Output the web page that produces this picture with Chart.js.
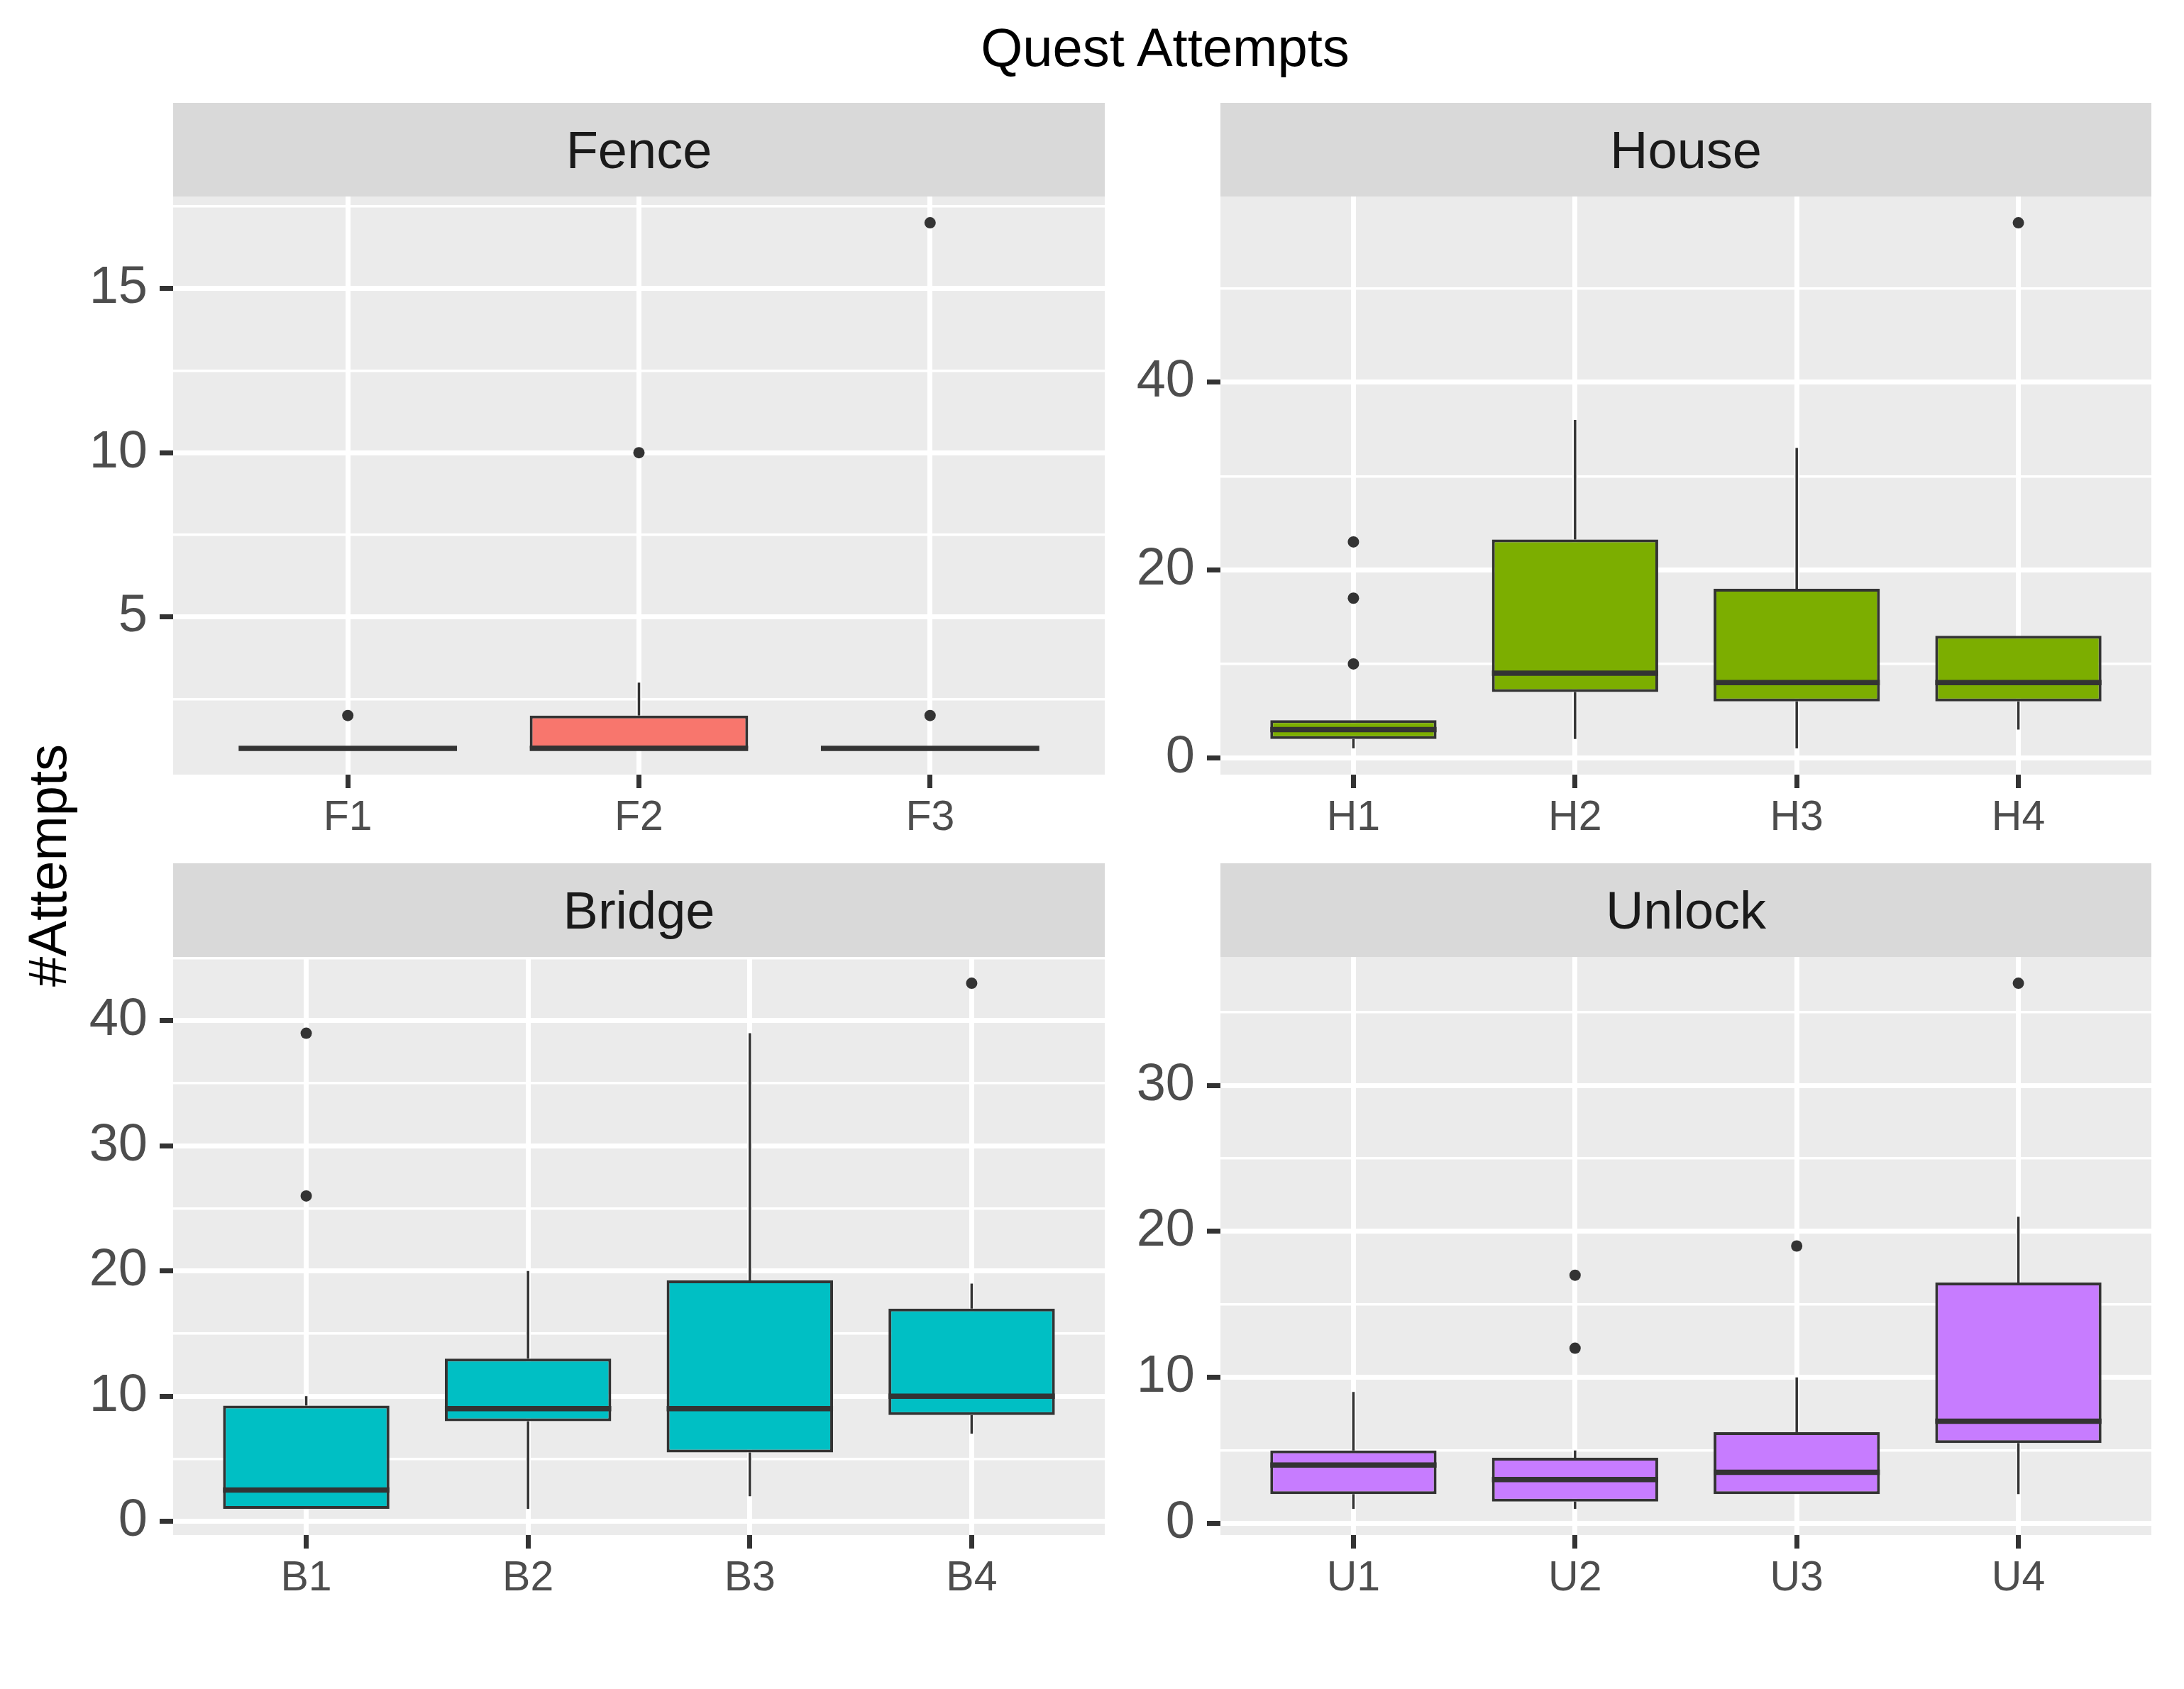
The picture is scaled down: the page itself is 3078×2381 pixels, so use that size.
<!DOCTYPE html>
<html>
<head>
<meta charset="utf-8">
<title>Quest Attempts</title>
<script src="https://cdn.jsdelivr.net/npm/chart.js@4.4.1/dist/chart.umd.min.js"></script>
<style>
  body { margin: 0; background: #ffffff; }
  #page {
    position: relative;
    width: 3078px;
    height: 2381px;
    overflow: hidden;
    font-family: "Liberation Sans", Arial, sans-serif;
  }
  #page canvas { position: absolute; }
  #title {
    position: absolute;
    left: 244px;
    top: 29px;
    width: 2796px;
    text-align: center;
    font-size: 76px;
    line-height: 76px;
    color: #000000;
  }
  #ytitle {
    position: absolute;
    left: -133px;
    top: 1182px;
    width: 400px;
    height: 76px;
    text-align: center;
    font-size: 76px;
    line-height: 76px;
    color: #000000;
    transform: rotate(-90deg);
  }
</style>
</head>
<body>
<div id="page">
  <div id="title">Quest Attempts</div>
  <div id="ytitle">#Attempts</div>
  <canvas id="fenceChart" width="1565" height="1047" style="left:0px;top:145px;width:1565px;height:1047px"></canvas>
  <canvas id="houseChart" width="1440" height="1047" style="left:1600px;top:145px;width:1440px;height:1047px"></canvas>
  <canvas id="bridgeChart" width="1565" height="1047" style="left:0px;top:1217px;width:1565px;height:1047px"></canvas>
  <canvas id="unlockChart" width="1440" height="1047" style="left:1600px;top:1217px;width:1440px;height:1047px"></canvas>
</div>
<script>
// Quest Attempts - faceted box plots

/* -------------------- Data -------------------- */

// Fence
const fenceCats = ["F1", "F2", "F3"];
const fenceLow = [1, 1, 1];
const fenceQ1 = [1, 1, 1];
const fenceMedian = [1, 1, 1];
const fenceQ3 = [1, 2, 1];
const fenceHigh = [1, 3, 1];
const fenceOutliers = [[2], [10], [2, 17]];
const fenceLimits = [0.2, 17.8];
const fenceMajor = [5, 10, 15];
const fenceMinor = [2.5, 7.5, 12.5, 17.5];

// House
const houseCats = ["H1", "H2", "H3", "H4"];
const houseLow = [1, 2, 1, 3];
const houseQ1 = [2, 7, 6, 6];
const houseMedian = [3, 9, 8, 8];
const houseQ3 = [4, 23.25, 18, 13];
const houseHigh = [4, 36, 33, 13];
const houseOutliers = [[10, 17, 23], [], [], [57]];
const houseLimits = [-1.8, 59.8];
const houseMajor = [0, 20, 40];
const houseMinor = [10, 30, 50];

// Bridge
const bridgeCats = ["B1", "B2", "B3", "B4"];
const bridgeLow = [1, 1, 2, 7];
const bridgeQ1 = [1, 8, 5.5, 8.5];
const bridgeMedian = [2.5, 9, 9, 10];
const bridgeQ3 = [9.25, 13, 19.25, 17];
const bridgeHigh = [10, 20, 39, 19];
const bridgeOutliers = [[26, 39], [], [], [43]];
const bridgeLimits = [-1.1, 45.1];
const bridgeMajor = [0, 10, 20, 30, 40];
const bridgeMinor = [5, 15, 25, 35, 45];

// Unlock
const unlockCats = ["U1", "U2", "U3", "U4"];
const unlockLow = [1, 1, 2, 2];
const unlockQ1 = [2, 1.5, 2, 5.5];
const unlockMedian = [4, 3, 3.5, 7];
const unlockQ3 = [5, 4.5, 6.25, 16.5];
const unlockHigh = [9, 5, 10, 21];
const unlockOutliers = [[], [12, 17], [19], [37]];
const unlockLimits = [-0.8, 38.8];
const unlockMajor = [0, 10, 20, 30];
const unlockMinor = [5, 15, 25, 35];

/* -------------------- Shared style -------------------- */

const FONT = '"Liberation Sans", Arial, sans-serif';
const STRIP_HEIGHT = 132;
const INK = "#333333";

window.addEventListener("DOMContentLoaded", () => {
  buildPanel("fenceChart", "Fence", "#F8766D", fenceCats, fenceLow, fenceQ1, fenceMedian,
    fenceQ3, fenceHigh, fenceOutliers, fenceLimits, fenceMajor, fenceMinor, 244);
  buildPanel("houseChart", "House", "#7CAE00", houseCats, houseLow, houseQ1, houseMedian,
    houseQ3, houseHigh, houseOutliers, houseLimits, houseMajor, houseMinor, 120);
  buildPanel("bridgeChart", "Bridge", "#00BFC4", bridgeCats, bridgeLow, bridgeQ1, bridgeMedian,
    bridgeQ3, bridgeHigh, bridgeOutliers, bridgeLimits, bridgeMajor, bridgeMinor, 244);
  buildPanel("unlockChart", "Unlock", "#C77CFF", unlockCats, unlockLow, unlockQ1, unlockMedian,
    unlockQ3, unlockHigh, unlockOutliers, unlockLimits, unlockMajor, unlockMinor, 120);
});

/* -------------------- One facet panel -------------------- */

function buildPanel(canvasId, stripText, fill, cats, low, q1, median, q3, high, outliers,
                    limits, major, minor, yWidth) {
  const isMajor = v => major.includes(v);

  // grey panel + facet strip
  const panelBackground = {
    id: "panelBackground",
    beforeDraw(chart) {
      const { ctx, chartArea: a } = chart;
      ctx.save();
      ctx.fillStyle = "#EBEBEB";
      ctx.fillRect(a.left, a.top, a.right - a.left, a.bottom - a.top);
      ctx.fillStyle = "#D9D9D9";
      ctx.fillRect(a.left, a.top - STRIP_HEIGHT, a.right - a.left, STRIP_HEIGHT);
      ctx.fillStyle = "#1A1A1A";
      ctx.font = "74px " + FONT;
      ctx.textAlign = "center";
      ctx.textBaseline = "alphabetic";
      ctx.fillText(stripText, (a.left + a.right) / 2, a.top - STRIP_HEIGHT / 2 + 0.358 * 74);
      ctx.restore();
    }
  };

  // whiskers and median lines, positioned through the chart scales
  const boxLines = {
    id: "boxLines",
    afterDatasetsDraw(chart) {
      const { ctx } = chart;
      const xs = chart.scales.x;
      const ys = chart.scales.y;
      const bars = chart.getDatasetMeta(0).data;
      ctx.save();
      ctx.strokeStyle = INK;
      ctx.lineCap = "butt";
      cats.forEach((c, i) => {
        const px = xs.getPixelForValue(i + 1);
        ctx.lineWidth = 3.5;
        ctx.beginPath();
        ctx.moveTo(px, ys.getPixelForValue(high[i]));
        ctx.lineTo(px, ys.getPixelForValue(q3[i]));
        ctx.moveTo(px, ys.getPixelForValue(q1[i]));
        ctx.lineTo(px, ys.getPixelForValue(low[i]));
        ctx.stroke();

        const half = bars[i].width / 2;
        const my = ys.getPixelForValue(median[i]);
        ctx.lineWidth = 7.5;
        ctx.beginPath();
        ctx.moveTo(px - half, my);
        ctx.lineTo(px + half, my);
        ctx.stroke();
      });
      ctx.restore();
    }
  };

  const boxes = cats.map((c, i) => ({ x: i + 1, y: [q1[i], q3[i]] }));
  const points = [];
  outliers.forEach((list, i) => {
    list.forEach(v => points.push({ x: i + 1, y: v }));
  });

  const ctx = document.getElementById(canvasId).getContext("2d");

  new Chart(ctx, {
    type: "bar",
    data: {
      datasets: [
        {
          type: "bar",
          label: stripText,
          data: boxes,
          backgroundColor: fill,
          borderColor: INK,
          borderWidth: 4,
          borderSkipped: false,
          categoryPercentage: 1,
          barPercentage: 0.75
        },
        {
          type: "line",
          label: stripText + " outliers",
          data: points,
          showLine: false,
          pointRadius: 8,
          pointBackgroundColor: INK,
          pointBorderWidth: 0
        }
      ]
    },
    options: {
      responsive: false,
      animation: false,
      devicePixelRatio: 1,
      events: [],
      layout: {
        padding: { top: STRIP_HEIGHT, left: 0, right: 0, bottom: 0 }
      },
      plugins: {
        legend: { display: false },
        tooltip: { enabled: false },
        title: { display: false }
      },
      scales: {
        x: {
          type: "linear",
          min: 0.4,
          max: cats.length + 0.6,
          offset: false,
          afterBuildTicks: s => { s.ticks = cats.map((c, i) => ({ value: i + 1 })); },
          afterFit: s => { s.height = 100; },
          border: { display: false },
          grid: {
            offset: false,
            color: "#FFFFFF",
            lineWidth: 7,
            tickColor: INK,
            tickWidth: 7,
            tickLength: 19
          },
          ticks: {
            autoSkip: false,
            maxRotation: 0,
            padding: 7,
            color: "#4D4D4D",
            font: { family: FONT, size: 59 },
            callback: v => cats[Math.round(v) - 1]
          }
        },
        y: {
          type: "linear",
          min: limits[0],
          max: limits[1],
          afterBuildTicks: s => {
            s.ticks = major.concat(minor).sort((a, b) => a - b).map(v => ({ value: v }));
          },
          afterFit: s => { s.width = yWidth; },
          border: { display: false },
          grid: {
            color: "#FFFFFF",
            lineWidth: c => (c.tick && isMajor(c.tick.value) ? 7 : 3.5),
            tickColor: c => (c.tick && isMajor(c.tick.value) ? INK : "rgba(0,0,0,0)"),
            tickWidth: 7,
            tickLength: 19
          },
          ticks: {
            autoSkip: false,
            padding: 17,
            color: "#4D4D4D",
            font: { family: FONT, size: 74 },
            callback: v => (isMajor(v) ? String(v) : "")
          }
        }
      }
    },
    plugins: [panelBackground, boxLines]
  });
}
</script>
</body>
</html>
